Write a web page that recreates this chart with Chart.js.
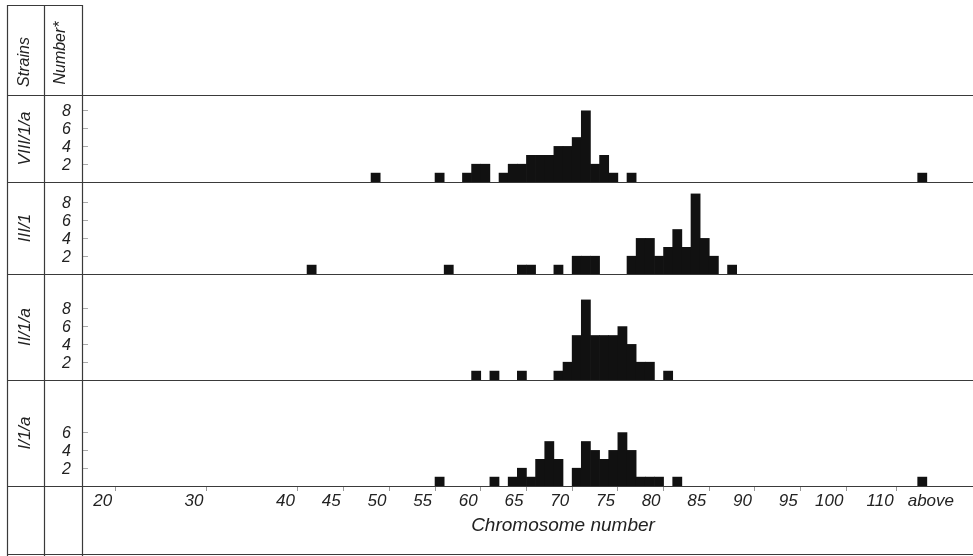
<!DOCTYPE html>
<html>
<head>
<meta charset="utf-8">
<script src="https://cdn.jsdelivr.net/npm/chart.js@4.4.0/dist/chart.umd.min.js"></script>
<style>
    html, body { margin: 0; padding: 0; background: #fff; }
    #chart { display: block; }
</style>
</head>
<body>
<canvas id="chart" width="973" height="556"></canvas>
<script>
// strains, top to bottom
const strains = ["VIII/1/a", "III/1", "II/1/a", "I/1/a"];

// chromosome numbers found and how many cells had each one
const chromosomes_viii = [48, 55, 58, 59, 60, 62, 63, 64, 65, 66, 67, 68, 69, 70, 71, 72, 73, 74, 76, "above"];
const counts_viii      = [1, 1, 1, 2, 2, 1, 2, 2, 3, 3, 3, 4, 4, 5, 8, 2, 3, 1, 1, 1];

const chromosomes_iii = [41, 56, 64, 65, 68, 70, 71, 72, 76, 77, 78, 79, 80, 81, 82, 83, 84, 85, 87];
const counts_iii      = [1, 1, 1, 1, 1, 2, 2, 2, 2, 4, 4, 2, 3, 5, 3, 9, 4, 2, 1];

const chromosomes_ii = [59, 61, 64, 68, 69, 70, 71, 72, 73, 74, 75, 76, 77, 78, 80];
const counts_ii      = [1, 1, 1, 1, 2, 5, 9, 5, 5, 5, 6, 4, 2, 2, 1];

const chromosomes_i = [55, 61, 63, 64, 65, 66, 67, 68, 70, 71, 72, 73, 74, 75, 76, 77, 78, 79, 81, "above"];
const counts_i      = [1, 1, 1, 2, 1, 3, 5, 3, 2, 5, 4, 3, 4, 6, 4, 1, 1, 1, 1, 1];

const number_ticks = [[2, 4, 6, 8], [2, 4, 6, 8], [2, 4, 6, 8], [2, 4, 6]];
const axis_labels = ["20", "30", "40", "45", "50", "55", "60", "65", "70", "75", "80", "85", "90", "95", "100", "110", "above"];

const all_chromosomes = [chromosomes_viii, chromosomes_iii, chromosomes_ii, chromosomes_i];
const all_counts = [counts_viii, counts_iii, counts_ii, counts_i];

// layout of the drawing
const panel_heights = [87, 92, 106, 106];
const px_per_cell = 8.9;
const left_width = 82;
const font_family = '"Liberation Sans", "DejaVu Sans", sans-serif';
const ink = "#222";

// the axis is squeezed after 100, "above" sits at the far end
function axis_pos(label) {
    if (label === "above") return 112.1;
    let n = Number(label);
    if (n > 100) return 100 + (n - 100) * 0.55;
    return n;
}

function bar_pos(chromosome) {
    if (chromosome === "above") return 108.3;
    return chromosome + 0.5;
}

function make_dataset(i) {
    return {
        label: strains[i],
        yAxisID: "y" + i,
        data: all_chromosomes[i].map((c, k) => ({ x: bar_pos(c), y: all_counts[i][k] })),
        backgroundColor: "#111",
        borderWidth: 0,
        barPercentage: 1,
        categoryPercentage: 1,
        grouped: false,
    };
}

function make_y_axis(i) {
    return {
        type: "linear",
        position: "left",
        stack: "rows",
        stackWeight: panel_heights[i],
        weight: strains.length - i,
        min: 0,
        max: panel_heights[i] / px_per_cell,
        afterBuildTicks: (scale) => {
            scale.ticks = number_ticks[i].map((v) => ({ value: v }));
        },
        afterFit: (scale) => {
            scale.width = left_width;
        },
        ticks: {
            autoSkip: false,
            color: ink,
            padding: 17,
            labelOffset: 1,
            font: { family: font_family, size: 16, style: "italic" },
        },
        grid: {
            drawOnChartArea: false,
            tickLength: -6,
            tickColor: "#aaa",
            offset: false,
        },
        border: { display: false },
        title: {
            display: true,
            text: strains[i],
            color: ink,
            padding: { top: 15, bottom: 0 },
            font: { family: font_family, size: 17, style: "italic" },
        },
    };
}

const table_plugin = {
    id: "table_lines",
    afterDraw(chart) {
        const ctx = chart.ctx;
        const area = chart.chartArea;
        const right = chart.width;
        ctx.save();
        ctx.strokeStyle = "#3a3a3a";
        ctx.lineWidth = 1.2;
        function line(x0, y0, x1, y1) {
            ctx.beginPath();
            ctx.moveTo(x0, y0);
            ctx.lineTo(x1, y1);
            ctx.stroke();
        }
        line(7.5, 5, 7.5, 556);
        line(44.5, 5, 44.5, 556);
        line(area.left + 0.5, 5, area.left + 0.5, 556);
        line(7, 5.5, area.left, 5.5);
        line(7, Math.round(area.top) + 0.5, right, Math.round(area.top) + 0.5);
        for (let i = 0; i < strains.length; i++) {
            let y = Math.round(chart.scales["y" + i].bottom) + 0.5;
            line(7, y, right, y);
        }
        line(7, 554.5, right, 554.5);

        ctx.fillStyle = ink;
        ctx.textAlign = "center";
        ctx.textBaseline = "middle";
        ctx.font = "italic 16px " + font_family;
        [["Strains", 25, 62], ["Number*", 61, 53]].forEach(([text, x, y]) => {
            ctx.save();
            ctx.translate(x, y);
            ctx.rotate(-Math.PI / 2);
            ctx.fillText(text, 0, 0);
            ctx.restore();
        });
        ctx.font = "italic 19px " + font_family;
        ctx.fillText("Chromosome number", 563, 526);
        ctx.restore();
    }
};

let scales = {
    x: {
        type: "linear",
        min: 16.38,
        max: 113.85,
        offset: false,
        afterBuildTicks: (scale) => {
            scale.ticks = axis_labels.map((l) => ({ value: axis_pos(l) }));
        },
        afterFit: (scale) => {
            scale.height = 556 - 486;
        },
        ticks: {
            autoSkip: false,
            maxRotation: 0,
            align: "end",
            labelOffset: -3,
            padding: 0,
            color: ink,
            font: { family: font_family, size: 17, style: "italic" },
            callback: (value, index) => axis_labels[index],
        },
        grid: {
            drawOnChartArea: false,
            offset: false,
            tickLength: 5,
            tickColor: (c) => (c.index === axis_labels.length - 1 ? "rgba(0,0,0,0)" : "#999"),
        },
        border: { display: false },
    },
};
strains.forEach((s, i) => {
    scales["y" + i] = make_y_axis(i);
});

new Chart(document.getElementById("chart"), {
    type: "bar",
    data: {
        datasets: strains.map((s, i) => make_dataset(i)),
    },
    options: {
        responsive: false,
        animation: false,
        devicePixelRatio: 1,
        layout: { padding: { top: 95, left: 0, right: 0, bottom: 0 } },
        plugins: {
            legend: { display: false },
            tooltip: { enabled: false },
        },
        scales: scales,
    },
    plugins: [table_plugin],
});
</script>
</body>
</html>
